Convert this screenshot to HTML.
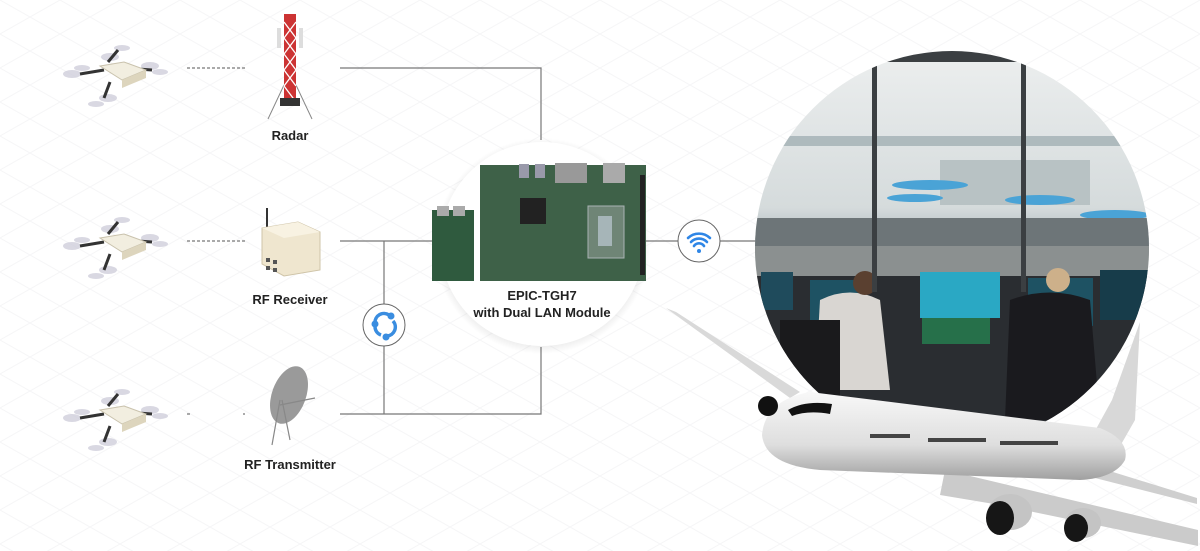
<!DOCTYPE html>
<html><head><meta charset="utf-8"><style>
html,body{margin:0;padding:0;width:1200px;height:551px;overflow:hidden;background:#fff}
text{font-family:"Liberation Sans",sans-serif;font-weight:bold}
</style></head><body>
<svg width="1200" height="551" viewBox="0 0 1200 551" xmlns="http://www.w3.org/2000/svg">
<defs>
<pattern id="grid" width="60" height="34" patternUnits="userSpaceOnUse">
<path d="M0 0L60 34M60 0L0 34" stroke="#f6f6f7" stroke-width="1"/>
</pattern>
<clipPath id="cc"><circle cx="952" cy="248" r="197"/></clipPath>
<linearGradient id="sky" x1="0" y1="0" x2="0" y2="1">
<stop offset="0" stop-color="#eef0f0"/><stop offset="0.4" stop-color="#d5dbdc"/><stop offset="0.5" stop-color="#a3b0b4"/><stop offset="0.56" stop-color="#e4e1d6"/><stop offset="1" stop-color="#c3c4c0"/>
</linearGradient>
<linearGradient id="fus" x1="0" y1="0" x2="0" y2="1">
<stop offset="0" stop-color="#f8f8f8"/><stop offset="0.6" stop-color="#dedede"/><stop offset="1" stop-color="#a0a0a0"/>
</linearGradient>
<radialGradient id="sh" cx="0.5" cy="0.5" r="0.5"><stop offset="0.88" stop-color="#000" stop-opacity="0.1"/><stop offset="1" stop-color="#000" stop-opacity="0"/></radialGradient>
</defs>
<rect width="1200" height="551" fill="#fff"/>
<rect width="1200" height="551" fill="url(#grid)"/>

<!-- connectors -->
<g stroke="#777" stroke-width="1.2" fill="none">
<path d="M340 68H541V140"/>
<path d="M340 241H432"/>
<path d="M384 241V414"/>
<path d="M340 414H541V347"/>
<path d="M646 241H678M720 241H757"/>
<path d="M187 68H245M187 241H245M187 414H190M243 414H245" stroke-dasharray="3 2"/>
</g>

<!-- board circle -->
<circle cx="542" cy="246" r="108" fill="url(#sh)"/>
<circle cx="542" cy="244" r="102" fill="#fff"/>
<rect x="432" y="210" width="42" height="71" fill="#2f5a3e"/>
<rect x="437" y="206" width="12" height="10" fill="#aaa"/><rect x="453" y="206" width="12" height="10" fill="#aaa"/>
<rect x="480" y="165" width="166" height="116" fill="#3e6148"/>
<rect x="520" y="198" width="26" height="26" fill="#222"/>
<rect x="588" y="206" width="36" height="52" fill="#6f8576" stroke="#a9b4b4"/>
<rect x="598" y="216" width="14" height="30" fill="#a6b5b8"/>
<rect x="555" y="163" width="32" height="20" fill="#999"/><rect x="603" y="163" width="22" height="20" fill="#aaa"/>
<rect x="519" y="164" width="10" height="14" fill="#99a"/><rect x="535" y="164" width="10" height="14" fill="#99a"/>
<rect x="640" y="175" width="5" height="100" fill="#222"/>
<text x="542" y="300" font-size="13" text-anchor="middle" fill="#222">EPIC-TGH7</text>
<text x="542" y="317" font-size="13" text-anchor="middle" fill="#222">with Dual LAN Module</text>

<!-- share icon -->
<circle cx="384" cy="325" r="21" fill="#fff" stroke="#666" stroke-width="1"/>
<path d="M375 323A9 9 0 0 1 389 315M393 321A9 9 0 0 1 387 336M381 335A9 9 0 0 1 375 327" stroke="#3a8de0" stroke-width="3.5" fill="none"/>
<circle cx="375" cy="324" r="3.5" fill="#3a8de0"/><circle cx="391" cy="316" r="3.5" fill="#3a8de0"/><circle cx="386" cy="337" r="3.5" fill="#3a8de0"/>

<!-- wifi icon -->
<circle cx="699" cy="241" r="21" fill="#fff" stroke="#666" stroke-width="1"/>
<path d="M688 238A16 16 0 0 1 710 238M691 242A11 11 0 0 1 707 242M694 246A6 6 0 0 1 704 246" stroke="#2f86e6" stroke-width="2.6" fill="none" stroke-linecap="round"/>
<circle cx="699" cy="251" r="2" fill="#2f86e6"/>

<!-- left labels -->
<text x="290" y="140" font-size="13" text-anchor="middle" fill="#222">Radar</text>
<text x="290" y="304" font-size="13" text-anchor="middle" fill="#222">RF Receiver</text>
<text x="290" y="469" font-size="13" text-anchor="middle" fill="#222">RF Transmitter</text>

<!-- radar tower -->
<g stroke="#888" stroke-width="1" fill="none"><path d="M268 119L284 85M312 119L296 85"/></g>
<rect x="284" y="14" width="12" height="90" fill="#c33"/>
<path d="M284 22L296 38M296 22L284 38M284 38L296 54M296 38L284 54M284 54L296 70M296 54L284 70M284 70L296 86M296 70L284 86M284 86L296 102" stroke="#fff" stroke-width="1.3"/>
<rect x="280" y="98" width="20" height="8" fill="#333"/>
<rect x="277" y="28" width="4" height="20" fill="#ddd"/><rect x="299" y="28" width="4" height="20" fill="#ddd"/>

<!-- receiver -->
<line x1="267" y1="208" x2="267" y2="228" stroke="#333" stroke-width="2"/>
<path d="M262 228L298 222L320 232V270L284 276L262 264Z" fill="#efe6cf" stroke="#cfc4a8"/>
<path d="M262 228L298 222L320 232L284 238Z" fill="#f8f2e2"/>
<g fill="#555"><rect x="266" y="258" width="4" height="4"/><rect x="273" y="260" width="4" height="4"/><rect x="266" y="266" width="4" height="4"/><rect x="273" y="268" width="4" height="4"/></g>

<!-- dish -->
<ellipse cx="289" cy="395" rx="17" ry="30" fill="#9a9a9a" transform="rotate(20 289 395)"/>
<path d="M280 400L272 445M282 400L290 440M280 405L315 398" stroke="#888" stroke-width="1.2"/>

<!-- drones -->
<g id="dr">
<g fill="#d0cfdc" opacity="0.8">
<ellipse cx="72" cy="74" rx="9" ry="4"/><ellipse cx="110" cy="57" rx="9" ry="4"/><ellipse cx="150" cy="66" rx="9" ry="4"/><ellipse cx="108" cy="98" rx="9" ry="4"/>
<ellipse cx="122" cy="48" rx="8" ry="3"/><ellipse cx="160" cy="72" rx="8" ry="3"/><ellipse cx="96" cy="104" rx="8" ry="3"/><ellipse cx="82" cy="68" rx="8" ry="3"/>
</g>
<path d="M80 74L104 70M108 62L118 50M124 68L152 70M110 82L104 98" stroke="#333" stroke-width="3"/>
<path d="M100 66L124 62L146 70L122 80Z" fill="#f2eee0" stroke="#c9c2ad"/>
<path d="M122 80L146 70V78L122 88Z" fill="#ddd5bd"/>
</g>
<use href="#dr" y="172"/>
<use href="#dr" y="344"/>

<!-- control tower photo -->
<g clip-path="url(#cc)">
<rect x="740" y="40" width="420" height="420" fill="url(#sky)"/>
<rect x="740" y="136" width="420" height="10" fill="#8e9ea4" opacity="0.6"/>
<rect x="940" y="160" width="150" height="45" fill="#b8c2c4"/>
<g fill="#4aa3d6"><ellipse cx="930" cy="185" rx="38" ry="5"/><ellipse cx="1040" cy="200" rx="35" ry="5"/><ellipse cx="1115" cy="215" rx="35" ry="5"/><ellipse cx="915" cy="198" rx="28" ry="4"/></g>
<rect x="740" y="218" width="420" height="28" fill="#6d7578"/>
<rect x="740" y="246" width="420" height="30" fill="#8b9090"/>
<rect x="740" y="276" width="420" height="200" fill="#2a2d31"/>
<rect x="761" y="272" width="32" height="38" fill="#1f4b5c"/>
<rect x="810" y="280" width="50" height="42" fill="#1e5263"/>
<rect x="920" y="272" width="80" height="46" fill="#2aa8c4"/>
<rect x="922" y="318" width="68" height="26" fill="#26704a"/>
<rect x="1028" y="278" width="65" height="48" fill="#1e5263"/>
<rect x="1100" y="270" width="50" height="50" fill="#173c4a"/>
<path d="M820 300Q850 285 880 300L890 390H815Z" fill="#d9d6d2"/>
<circle cx="865" cy="283" r="12" fill="#5a4030"/>
<path d="M1010 300Q1050 285 1090 300L1100 420H1005Z" fill="#1a1a1e"/>
<circle cx="1058" cy="280" r="12" fill="#cdb08a"/>
<rect x="780" y="320" width="60" height="120" fill="#1a1a1c"/>
<rect x="872" y="60" width="5" height="232" fill="#3b3f42"/>
<rect x="1021" y="60" width="5" height="232" fill="#3b3f42"/>
<rect x="740" y="40" width="420" height="22" fill="#3b3f42"/>
</g>

<!-- airplane -->
<path d="M666 308L676 312L800 392L790 398Z" fill="#d9d9d9"/>
<path d="M1090 440L1112 400L1140 322L1135 420L1115 455Z" fill="#d8d8d8"/>
<path d="M1100 468L1197 498L1197 504L1095 478Z" fill="#cfcfcf"/>
<path d="M945 470L1198 530L1198 546L1000 505L940 495Z" fill="#cbcbcb"/>
<path d="M762 435Q765 400 810 392L1100 428Q1130 440 1125 460Q1115 478 1080 480L820 470Q765 465 762 435Z" fill="url(#fus)"/>
<path d="M788 410Q805 400 832 404L830 414Q808 410 792 416Z" fill="#111"/>
<circle cx="768" cy="406" r="10" fill="#111"/>
<g fill="#444"><rect x="870" y="434" width="40" height="4"/><rect x="928" y="438" width="58" height="4"/><rect x="1000" y="441" width="58" height="4"/></g>
<ellipse cx="1010" cy="512" rx="22" ry="18" fill="#c4c4c4"/>
<ellipse cx="1083" cy="523" rx="18" ry="15" fill="#c4c4c4"/>
<ellipse cx="1000" cy="518" rx="14" ry="17" fill="#161616"/>
<ellipse cx="1076" cy="528" rx="12" ry="14" fill="#161616"/>
</svg>
</body></html>
